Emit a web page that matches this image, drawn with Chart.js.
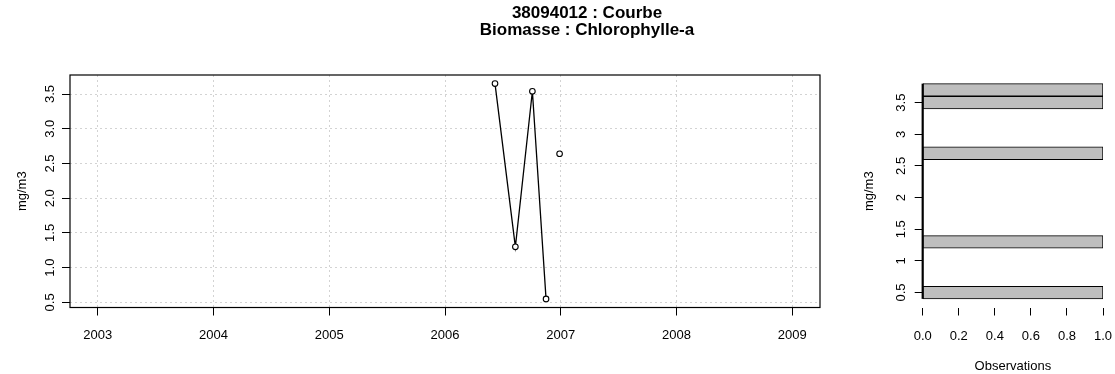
<!DOCTYPE html>
<html>
<head>
<meta charset="utf-8">
<script src="https://cdn.jsdelivr.net/npm/chart.js@4.4.0/dist/chart.umd.min.js"></script>
<style>
  body { margin: 0; background: #fff; }
  #wrap { position: relative; width: 1115px; height: 374px; }
  #curve { position: absolute; left: 0; top: 0; }
  #hist { position: absolute; left: 850px; top: 0; }
  #title {
    position: absolute; left: 387px; top: 4px; width: 400px;
    text-align: center; font: bold 17px "Liberation Sans", Arial, sans-serif;
    line-height: 17px; color: #000;
  }
</style>
</head>
<body>
<div id="wrap">
  <canvas id="curve" width="850" height="374"></canvas>
  <canvas id="hist" width="265" height="374"></canvas>
  <div id="title">38094012 : Courbe<br>Biomasse : Chlorophylle-a</div>
</div>
<script>
// sample dates (decimal years) and chlorophyll-a values
const sampleDates = [2006.432, 2006.608, 2006.755, 2006.873, 2006.99];
const chloroValues = [3.65, 1.3, 3.54, 0.55, 2.64];
// last sample is not joined to the previous one
const gapBefore = 4;

const yearTicks = [2003, 2004, 2005, 2006, 2007, 2008, 2009];
const curveTicks = [0.5, 1.0, 1.5, 2.0, 2.5, 3.0, 3.5];

// histogram on the right : class breaks + counts per class
const histBreaks = [0.4, 0.6, 0.8, 1.0, 1.2, 1.4, 1.6, 1.8, 2.0, 2.2, 2.4, 2.6, 2.8, 3.0, 3.2, 3.4, 3.6, 3.8];
const histCounts = [1, 0, 0, 0, 1, 0, 0, 0, 0, 0, 0, 1, 0, 0, 0, 1, 1];
const histTicks = [0.5, 1, 1.5, 2, 2.5, 3, 3.5];
const obsTicks = [0, 0.2, 0.4, 0.6, 0.8, 1.0];

Chart.defaults.font.family = '"Liberation Sans", Arial, sans-serif';
Chart.defaults.font.size = 13;
Chart.defaults.color = "#000";

// fixed axis size, no extra padding from the labels
function fixSize(w, h) {
  return (s) => {
    if (w) s.width = w;
    if (h) s.height = h;
    s.paddingTop = 0;
    s.paddingBottom = 0;
    s.paddingLeft = 0;
    s.paddingRight = 0;
  };
}

//box around the plot area
const boxPlugin = {
  id: "box",
  beforeDatasetsDraw(chart) {
    const a = chart.chartArea;
    const c = chart.ctx;
    c.save();
    c.strokeStyle = "#000";
    c.lineWidth = 1.2;
    c.strokeRect(a.left, a.top, a.right - a.left, a.bottom - a.top);
    c.restore();
  },
};

//Courbe (left)
new Chart(document.getElementById("curve"), {
  type: "line",
  data: {
    datasets: [
      {
        data: sampleDates.map((d, i) => ({ x: d, y: chloroValues[i] })),
        borderColor: "#000",
        borderWidth: 1.3,
        tension: 0,
        pointRadius: 2.8,
        pointBorderWidth: 1.1,
        pointBorderColor: "#000",
        pointBackgroundColor: "#fff",
        segment: {
          borderColor: (ctx) => (ctx.p1DataIndex === gapBefore ? "rgba(0,0,0,0)" : "#000"),
        },
      },
    ],
  },
  options: {
    responsive: false,
    animation: false,
    layout: { padding: { top: 75, right: 30, left: 0, bottom: 0 } },
    plugins: { legend: { display: false }, tooltip: { enabled: false } },
    scales: {
      x: {
        type: "linear",
        min: 2002.76,
        max: 2009.24,
        afterBuildTicks: (s) => { s.ticks = yearTicks.map((v) => ({ value: v })); },
        afterFit: fixSize(0, 66.5),
        ticks: { padding: 12, callback: (v) => String(v) },
        grid: { color: "#d3d3d3", tickColor: "#000", tickLength: 8, tickBorderDash: [] },
        border: { display: false, dash: [2, 3] },
      },
      y: {
        type: "linear",
        min: 0.426,
        max: 3.774,
        afterBuildTicks: (s) => { s.ticks = curveTicks.map((v) => ({ value: v })); },
        afterFit: fixSize(70, 0),
        ticks: { minRotation: 90, maxRotation: 90, crossAlign: "center", padding: 3, callback: (v) => v.toFixed(1) },
        grid: { color: "#d3d3d3", tickColor: "#000", tickLength: 8, tickBorderDash: [] },
        border: { display: false, dash: [2, 3] },
        title: { display: true, text: "mg/m3", padding: { top: 15, bottom: 0 } },
      },
    },
  },
  plugins: [boxPlugin],
});

//Histogram (right)
new Chart(document.getElementById("hist"), {
  type: "bar",
  data: {
    datasets: [
      {
        data: histCounts.map((n, i) => ({ x: n, y: (histBreaks[i] + histBreaks[i + 1]) / 2 })),
        backgroundColor: "#bebebe",
        borderColor: "#000",
        borderWidth: 1,
        borderSkipped: false,
        categoryPercentage: 1,
        barPercentage: 1,
      },
      {
        type: "line",
        data: [
          { x: 0, y: histBreaks[0] },
          { x: 0, y: histBreaks[histBreaks.length - 1] },
        ],
        borderColor: "#000",
        borderWidth: 2.2,
        pointRadius: 0,
        clip: false,
      },
    ],
  },
  options: {
    indexAxis: "y",
    responsive: false,
    animation: false,
    layout: { padding: { top: 75, right: 12, left: 0, bottom: 0 } },
    plugins: { legend: { display: false }, tooltip: { enabled: false } },
    scales: {
      x: {
        type: "linear",
        min: 0,
        max: 1,
        afterBuildTicks: (s) => { s.ticks = obsTicks.map((v) => ({ value: v })); },
        afterFit: fixSize(0, 66.5),
        ticks: { padding: 13, callback: (v) => v.toFixed(1) },
        grid: { drawOnChartArea: false, color: "#000", tickLength: 8 },
        border: { display: false },
        title: { display: true, text: "Observations", padding: { top: 0, bottom: 0 } },
      },
      y: {
        type: "linear",
        min: 0.264,
        max: 3.936,
        offset: false,
        afterBuildTicks: (s) => { s.ticks = histTicks.map((v) => ({ value: v })); },
        afterFit: fixSize(72.7, 0),
        ticks: { minRotation: 90, maxRotation: 90, crossAlign: "center", padding: 4, callback: (v) => String(v) },
        grid: { drawOnChartArea: false, offset: false, color: "#000", tickLength: 8 },
        border: { display: false },
        title: { display: true, text: "mg/m3", padding: { top: 12, bottom: 0 } },
      },
    },
  },
});
</script>
</body>
</html>
